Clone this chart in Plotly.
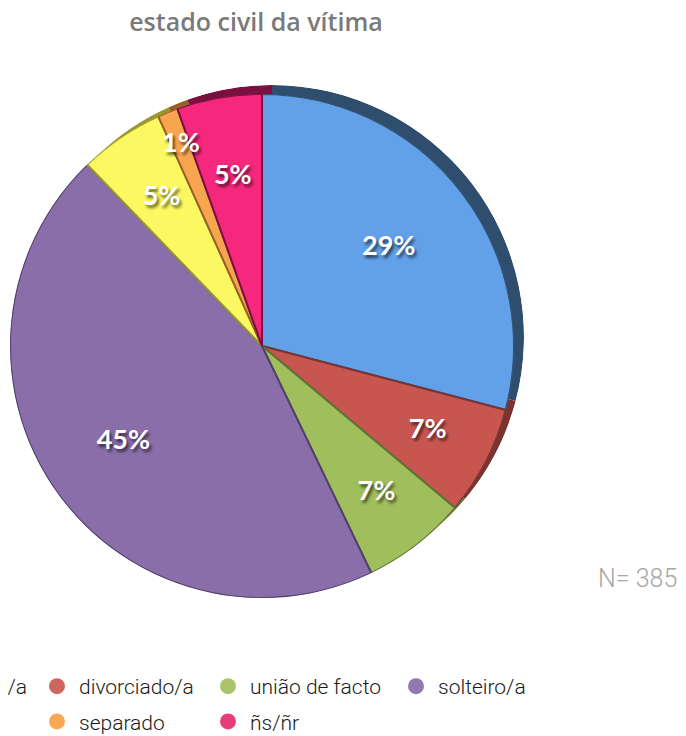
import numpy as np
import plotly.graph_objects as go

estados = ['casado/a', 'divorciado/a', 'união de facto', 'solteiro/a', 'viúvo/a', 'separado', 'ñs/ñr']
vitimas = [112, 27, 26, 173, 21, 5, 21]
total_n = 385

cores = ['#62a0e8', '#c85650', '#a0bf5c', '#8a6eaa', '#fbf862', '#f8a550', '#f5287d']
cores_lado = ['#2f4e6d', '#7a3430', '#5f7536', '#52406a', '#9a9630', '#9a6028', '#7a1040']
cores_legenda = ['#5b9bd5', '#cd6660', '#a9c46b', '#9079b3', '#f5ee5a', '#fba854', '#e63c7a']
raio_rotulo = [0.635, 0.74, 0.74, 0.67, 0.71, 0.86, 0.68]  # distância do rótulo ao centro

W, H = 686, 736
OFF = 8  # margem do body da página


def px_x(v):
    return (v - OFF) / W


def px_y(v):
    return 1 - (v - OFF) / H


# bolo: centro (262, 346), raio 252 px
dom_x = [px_x(10), px_x(514)]
dom_y = [px_y(598), px_y(94)]
dx, dy = 10 / W, 9 / H

v = np.array(vitimas, dtype=float)
pct = v / v.sum()
largura = pct * 360
ang_meio = np.cumsum(largura) - largura / 2

fig = go.Figure()

# "lado" do bolo 3D, desviado um pouco para cima/direita
fig.add_trace(go.Barpolar(
    r=[1] * len(estados), theta=ang_meio, width=largura,
    marker=dict(color=cores_lado, line=dict(width=0)),
    hoverinfo='skip', showlegend=False, subplot='polar',
))

fig.add_trace(go.Barpolar(
    r=[1] * len(estados), theta=ang_meio, width=largura, text=estados,
    marker=dict(color=cores, line=dict(color=cores_lado, width=2)),
    hovertemplate='%{text}: %{customdata}<extra></extra>', customdata=vitimas,
    showlegend=False, subplot='polar2',
))

# rótulos de percentagem no ângulo médio de cada fatia
fig.add_trace(go.Scatterpolar(
    r=raio_rotulo, theta=ang_meio, mode='text',
    text=[f'{p:.0%}' for p in pct],
    textfont=dict(family='Lato', size=27, color='white', weight='bold',
                  shadow='2px 3px 3px rgba(0,0,0,0.6)'),
    hoverinfo='skip', showlegend=False, subplot='polar2',
))

# legenda com círculos, em 4 colunas
colunas_px = [-83, 56, 227, 415]
for i, (nome, cor) in enumerate(zip(estados, cores_legenda)):
    k = i % 4
    fig.add_trace(go.Scatter(
        x=[None], y=[None], mode='markers', name=nome,
        marker=dict(symbol='circle', size=20, color=cor),
        legend='legend' if k == 0 else f'legend{k + 1}', legendgroup=nome,
    ))

fonte_legenda = dict(family='Roboto', size=21, color='#1a1a1a', weight=300)
for k, cx in enumerate(colunas_px):
    nome_leg = 'legend' if k == 0 else f'legend{k + 1}'
    fig.update_layout({nome_leg: dict(
        x=px_x(cx - 21), y=px_y(666), xanchor='left', yanchor='top',
        orientation='v', font=fonte_legenda, bgcolor='rgba(0,0,0,0)',
        tracegroupgap=5, itemsizing='trace', itemwidth=34,
    )})

fig.add_annotation(
    x=px_x(679), y=px_y(578), xref='paper', yref='paper', xanchor='right', yanchor='middle',
    text=f'N= {total_n}', showarrow=False,
    font=dict(family='Roboto', size=25, color='#a6a6a6', weight=300),
)

eixos_polar = dict(
    bgcolor='rgba(0,0,0,0)', bargap=0, hole=0,
    radialaxis=dict(visible=False, range=[0, 1]),
    angularaxis=dict(visible=False, rotation=90, direction='clockwise'),
)

fig.update_layout(
    width=W, height=H,
    title=dict(text='estado civil da vítima', x=px_x(256), xanchor='center',
               y=px_y(22), yanchor='middle',
               font=dict(family='Open Sans', size=25, color='#7a7a7a', weight=600)),
    margin=dict(l=0, r=0, t=0, b=0, autoexpand=False),
    paper_bgcolor='white', plot_bgcolor='white',
    xaxis=dict(visible=False), yaxis=dict(visible=False),
    polar=dict(domain=dict(x=[dom_x[0] + dx, dom_x[1] + dx], y=[dom_y[0] + dy, dom_y[1] + dy]),
               **eixos_polar),
    polar2=dict(domain=dict(x=dom_x, y=dom_y), **eixos_polar),
)

fig.write_html('out.html')
